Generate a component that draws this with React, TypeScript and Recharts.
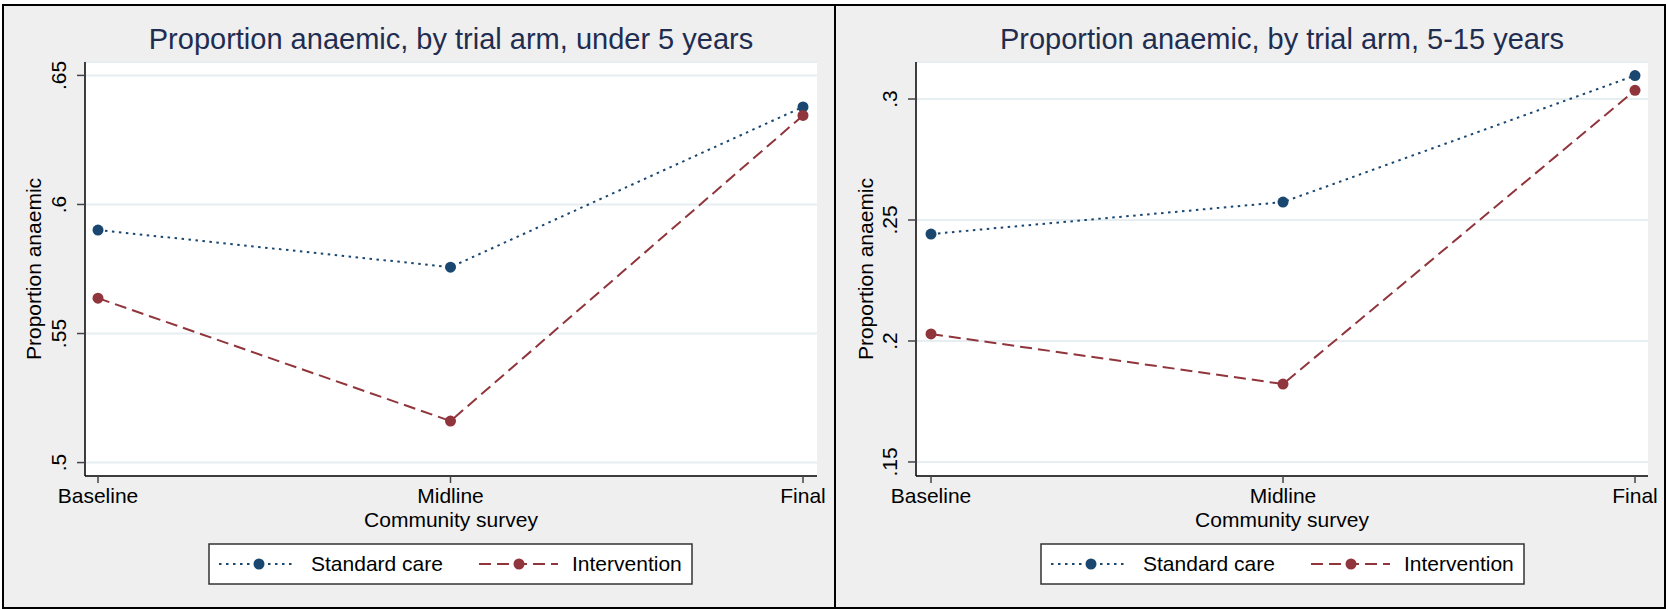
import { LineChart, Line, XAxis, YAxis, CartesianGrid } from "recharts";

// community survey rounds
const surveys = ["Baseline", "Midline", "Final"];

// proportion anaemic, under 5 years
const under5Standard = [0.5901, 0.5757, 0.6378];
const under5Intervention = [0.5637, 0.5161, 0.6345];
const under5Ticks = [0.5, 0.55, 0.6, 0.65];

// proportion anaemic, 5-15 years
const olderStandard = [0.2442, 0.2574, 0.3097];
const olderIntervention = [0.2029, 0.1822, 0.3036];
const olderTicks = [0.15, 0.2, 0.25, 0.3];

const seriesNames = ["Standard care", "Intervention"];

const NAVY = "#1a476f";
const MAROON = "#90353b";
const DOTTED = "2.5 4.5";
const DASHED = "12 6";
const FONT = "'Liberation Sans', Arial, sans-serif";

const fmt = (v: number) => String(v).replace(/^0/, "");

const YTick = ({ x, y, payload }: any) => {
  const bx = x - 11;
  return (
    <text
      x={bx}
      y={y}
      transform={`rotate(-90 ${bx} ${y})`}
      textAnchor="middle"
      fontSize={21}
      fontFamily={FONT}
      fill="#000"
    >
      {fmt(payload.value)}
    </text>
  );
};

const XTick = ({ x, y, payload }: any) => (
  <text x={x} y={y + 20} textAnchor="middle" fontSize={21} fontFamily={FONT} fill="#000">
    {payload.value}
  </text>
);

type PanelProps = {
  left: number;
  width: number;
  axisWidth: number;
  rightMargin: number;
  standard: number[];
  intervention: number[];
  ticks: number[];
  domain: [number, number];
  pad: { left: number; right: number };
};

function Panel({ left, width, axisWidth, rightMargin, standard, intervention, ticks, domain, pad }: PanelProps) {
  const data = surveys.map((s, i) => ({
    survey: s,
    standard: standard[i],
    intervention: intervention[i],
  }));
  return (
    <div style={{ position: "absolute", left, top: 0 }}>
      <LineChart
        width={width}
        height={610}
        data={data}
        margin={{ top: 62, right: rightMargin, left: 0, bottom: 0 }}
      >
        <CartesianGrid vertical={false} fill="#ffffff" stroke="#e6eef1" strokeWidth={2} />
        <XAxis
          dataKey="survey"
          height={134}
          padding={pad}
          tickSize={7}
          tickMargin={0}
          tick={<XTick />}
          axisLine={{ stroke: "#000", strokeWidth: 1.5 }}
          tickLine={{ stroke: "#444", strokeWidth: 1.5 }}
          interval={0}
        />
        <YAxis
          width={axisWidth}
          domain={domain}
          ticks={ticks}
          type="number"
          tickSize={8}
          tickMargin={0}
          tick={<YTick />}
          axisLine={{ stroke: "#000", strokeWidth: 1.5 }}
          tickLine={{ stroke: "#444", strokeWidth: 1.5 }}
          interval={0}
        />
        <Line
          type="linear"
          dataKey="standard"
          stroke={NAVY}
          strokeWidth={2}
          strokeDasharray={DOTTED}
          dot={{ r: 5.5, fill: NAVY, stroke: "none" }}
          activeDot={false}
          isAnimationActive={false}
        />
        <Line
          type="linear"
          dataKey="intervention"
          stroke={MAROON}
          strokeWidth={2}
          strokeDasharray={DASHED}
          dot={{ r: 5.5, fill: MAROON, stroke: "none" }}
          activeDot={false}
          isAnimationActive={false}
        />
      </LineChart>
    </div>
  );
}

function LegendBox({ x }: { x: number }) {
  const y = 544;
  const items = [
    { name: seriesNames[0], color: NAVY, dash: DOTTED, sx: 10, ex: 86, dx: 50, tx: 102 },
    { name: seriesNames[1], color: MAROON, dash: DASHED, sx: 270, ex: 349, dx: 310, tx: 363 },
  ];
  return (
    <g>
      <rect x={x} y={y} width={483} height={40} fill="#fff" stroke="#333" strokeWidth={1.5} />
      {items.map((it) => (
        <g key={it.name}>
          <line
            x1={x + it.sx}
            x2={x + it.ex}
            y1={y + 20}
            y2={y + 20}
            stroke={it.color}
            strokeWidth={2}
            strokeDasharray={it.dash}
          />
          <circle cx={x + it.dx} cy={y + 20} r={5.5} fill={it.color} />
          <text x={x + it.tx} y={y + 27} fontSize={21} fontFamily={FONT} fill="#000">
            {it.name}
          </text>
        </g>
      ))}
    </g>
  );
}

export default function App() {
  const leftCenter = (85 + 817) / 2;
  const rightCenter = (916 + 1648) / 2;
  return (
    <div style={{ position: "absolute", left: 0, top: 0, width: 1668, height: 610, background: "#fff" }}>
      <div
        style={{
          position: "absolute",
          left: 2,
          top: 4,
          width: 834,
          height: 605,
          boxSizing: "border-box",
          border: "2px solid #000",
          background: "#efefef",
        }}
      />
      <div
        style={{
          position: "absolute",
          left: 834,
          top: 4,
          width: 832,
          height: 605,
          boxSizing: "border-box",
          border: "2px solid #000",
          background: "#efefef",
        }}
      />
      <Panel
        left={0}
        width={836}
        axisWidth={85}
        rightMargin={19}
        standard={under5Standard}
        intervention={under5Intervention}
        ticks={under5Ticks}
        domain={[0.4948, 0.6552]}
        pad={{ left: 13, right: 14 }}
      />
      <Panel
        left={836}
        width={832}
        axisWidth={80}
        rightMargin={20}
        standard={olderStandard}
        intervention={olderIntervention}
        ticks={olderTicks}
        domain={[0.1442, 0.3153]}
        pad={{ left: 15, right: 13 }}
      />
      <svg
        width={1668}
        height={610}
        style={{ position: "absolute", left: 0, top: 0, pointerEvents: "none" }}
      >
        <g fontFamily={FONT}>
          <text x={leftCenter} y={49} textAnchor="middle" fontSize={29} fill="#1f2d50">
            Proportion anaemic, by trial arm, under 5 years
          </text>
          <text x={rightCenter} y={49} textAnchor="middle" fontSize={29} fill="#1f2d50">
            Proportion anaemic, by trial arm, 5-15 years
          </text>
          <text x={41} y={269} transform="rotate(-90 41 269)" textAnchor="middle" fontSize={21} fill="#000">
            Proportion anaemic
          </text>
          <text x={873} y={269} transform="rotate(-90 873 269)" textAnchor="middle" fontSize={21} fill="#000">
            Proportion anaemic
          </text>
          <text x={leftCenter} y={527} textAnchor="middle" fontSize={21} fill="#000">
            Community survey
          </text>
          <text x={rightCenter} y={527} textAnchor="middle" fontSize={21} fill="#000">
            Community survey
          </text>
        </g>
        <LegendBox x={209} />
        <LegendBox x={1041} />
      </svg>
    </div>
  );
}
